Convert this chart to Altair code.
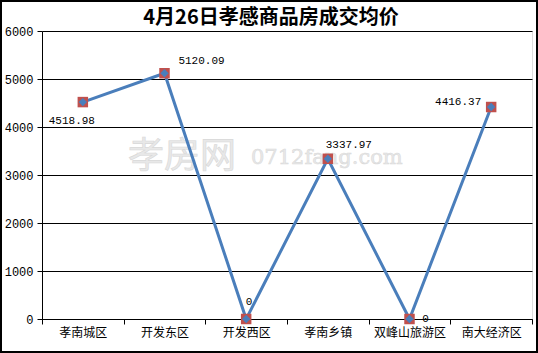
import altair as alt
import pandas as pd

categories = ["孝南城区", "开发东区", "开发西区", "孝南乡镇", "双峰山旅游区", "南大经济区"]
prices = [4518.98, 5120.09, 0, 3337.97, 0, 4416.37]
label_texts = ["4518.98", "5120.09", "0", "3337.97", "0", "4416.37"]
y_ticks = [0, 1000, 2000, 3000, 4000, 5000, 6000]
title_text = "4月26日孝感商品房成交均价"
watermark_cn = "孝房网"
watermark_en = "0712fang.com"

df = pd.DataFrame({"cat": categories, "price": prices, "label": label_texts})

W, H = 490, 288
x = alt.X("cat:N", sort=categories, title=None,
          scale=alt.Scale(paddingInner=0, paddingOuter=0),
          axis=alt.Axis(labelAngle=0, tickBand="extent", domainColor="black", tickColor="black",
                        tickSize=5, labelColor="black", labelFont="Noto Sans CJK SC",
                        labelFontSize=12, labelPadding=3, grid=False))
y = alt.Y("price:Q", title=None,
          scale=alt.Scale(domain=[0, 6000], nice=False),
          axis=alt.Axis(values=y_ticks, grid=True, gridColor="black", gridWidth=1,
                        domainColor="black", tickColor="black", tickSize=5,
                        labelColor="black", labelFont="Liberation Mono", labelFontSize=12,
                        labelPadding=4, format="d"))

base = alt.Chart(df)

line = base.mark_line(color="#4A7EBB", strokeWidth=3).encode(x=x, y=y)
sq = base.mark_point(shape="square", filled=True, color="#C0504D", size=110, opacity=1).encode(x=x, y=y)
dia = base.mark_point(shape="diamond", filled=True, color="#4A7EBB", size=70, opacity=1).encode(x=x, y=y)

offsets = {
    "孝南城区": (-11, 19),
    "开发东区": (37, -12),
    "开发西区": (3, -17),
    "孝南乡镇": (21, -14),
    "双峰山旅游区": (16, 0),
    "南大经济区": (-33, -5),
}
labels = []
for c, (ddx, ddy) in offsets.items():
    labels.append(
        base.transform_filter(alt.datum.cat == c).mark_text(
            font="Liberation Mono", fontSize=11, color="black", dx=ddx, dy=ddy
        ).encode(x=x, y=y, text="label:N")
    )

wm1 = alt.Chart(pd.DataFrame({"t": [watermark_cn]})).mark_text(
    font="Noto Sans CJK SC", fontSize=36, color="#e8e8e8", stroke="#d8d8d8", strokeWidth=0.6,
    align="left", baseline="middle"
).encode(x=alt.value(86), y=alt.value(126), text="t:N")
wm2 = alt.Chart(pd.DataFrame({"t": [watermark_en]})).mark_text(
    font="DejaVu Serif", fontSize=21, color="#e8e8e8", stroke="#d8d8d8", strokeWidth=0.5,
    align="left", baseline="middle"
).encode(x=alt.value(209), y=alt.value(127), text="t:N")

title = alt.Chart(pd.DataFrame({"t": [title_text]})).mark_text(
    font="Noto Sans CJK SC", fontSize=20, fontWeight="bold", color="black", align="center", baseline="middle"
).encode(x=alt.value(229), y=alt.value(-13), text="t:N")

border = alt.Chart(pd.DataFrame({"a": [0]})).mark_rect(
    fill=None, stroke="black", strokeWidth=2
).encode(x=alt.value(-41), x2=alt.value(W + 5), y=alt.value(-30), y2=alt.value(H + 33))

chart = alt.layer(wm1, wm2, line, sq, dia, *labels, title, border).properties(
    width=W, height=H,
    autosize=alt.AutoSizeParams(type="none"),
    padding={"left": 42, "top": 31, "right": 6, "bottom": 34},
).configure_view(stroke=None).configure(background="white")

chart.save("out.html", embed_options={"renderer": "svg", "actions": False})
